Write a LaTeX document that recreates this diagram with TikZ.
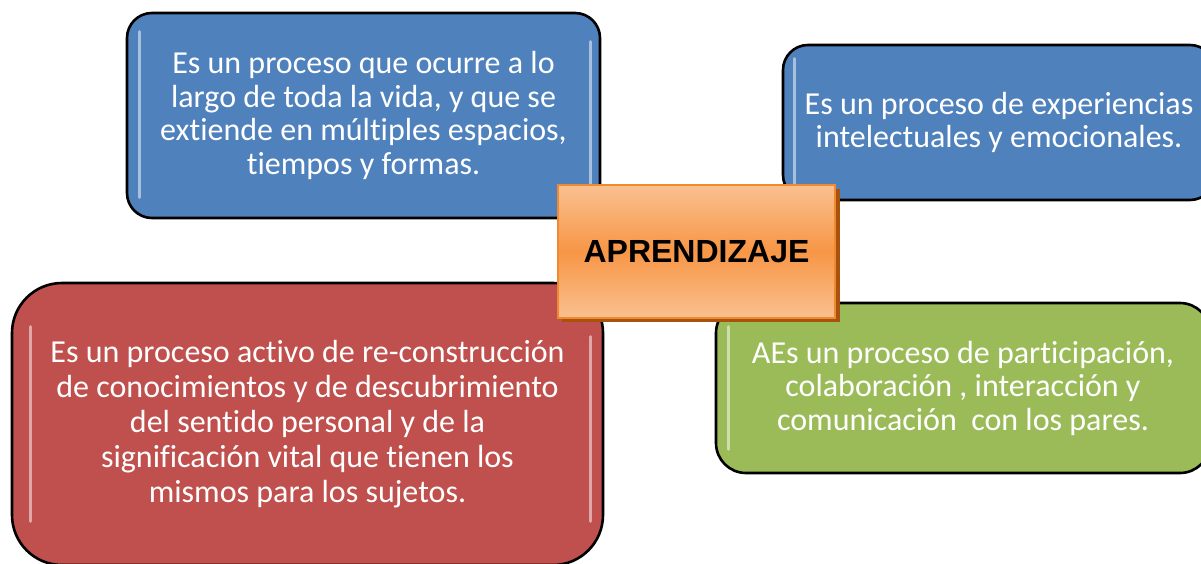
\documentclass[tikz,border=0pt]{standalone}
\usepackage{fontspec}
\setmainfont{Carlito}[Ligatures=NoCommon]
\newfontfamily\arialfont{Liberation Sans}
\definecolor{boxblue}{HTML}{4F81BD}
\definecolor{boxred}{HTML}{C0504D}
\definecolor{boxgreen}{HTML}{9BBB59}
\definecolor{orangemid}{HTML}{F79646}
\definecolor{orangelight}{HTML}{FAC090}
\definecolor{orangeshadow}{HTML}{A8520E}
\definecolor{orangeedge}{HTML}{F08A30}
\tikzset{
  card/.style={draw=black, line width=2.6pt, text=white, align=center,
    font=\fontsize{32}{33.5}\selectfont, inner sep=0pt},
  gloss/.style={draw=white, opacity=0.5, line width=3pt, line cap=round},
  centerbox/.style={draw=orangeedge, line width=1.5pt, shading=axis,
    top color=orangelight, bottom color=orangelight, middle color=orangemid,
    minimum width=277pt, minimum height=133pt, inner sep=0pt,
    font=\arialfont\bfseries\fontsize{32}{36}\selectfont, text=black}
}
\begin{document}
\begin{tikzpicture}[x=1pt,y=-1pt]
\useasboundingbox (0,0) rectangle (1201,563);
\clip (0,0) rectangle (1201,563);
\fill[white] (0,0) rectangle (1201,563);
% blue box 1
\node[card, fill=boxblue, rounded corners=25pt, minimum width=473pt, minimum height=205pt]
  (b1) at (363.5,115.5) {Es un proceso que ocurre a lo\\largo de toda la vida, y que se\\extiende en múltiples espacios,\\tiempos y formas.};
\draw[gloss] ([shift={(14pt,-20pt)}]b1.north west) -- ([shift={(14pt,22pt)}]b1.south west);
\draw[gloss] ([shift={(-11pt,-30pt)}]b1.north east) -- ([shift={(-11pt,22pt)}]b1.south east);
% blue box 2
\node[card, fill=boxblue, rounded corners=25pt, minimum width=432pt, minimum height=155pt]
  (b2) at (999,122.5) {Es un proceso de experiencias\\intelectuales y emocionales.};
\draw[gloss] ([shift={(13pt,-15pt)}]b2.north west) -- ([shift={(13pt,18pt)}]b2.south west);
% red box
\node[card, fill=boxred, rounded corners=50pt, minimum width=591pt, minimum height=282pt,
  font=\fontsize{32}{35}\selectfont]
  (r) at (307.5,424) {Es un proceso activo de re-construcción\\de conocimientos y de descubrimiento\\del sentido personal y de la\\significación vital que tienen los\\mismos para los sujetos.};
\draw[gloss] ([shift={(20pt,-45pt)}]r.north west) -- ([shift={(20pt,45pt)}]r.south west);
\draw[gloss] ([shift={(-14pt,-55pt)}]r.north east) -- ([shift={(-14pt,45pt)}]r.south east);
% green box
\node[card, fill=boxgreen, rounded corners=30pt, minimum width=494pt, minimum height=170pt]
  (g) at (963,388) {AEs un proceso de participación,\\colaboración , interacción y\\comunicación\ \ con los pares.};
\draw[gloss] ([shift={(14pt,-25pt)}]g.north west) -- ([shift={(14pt,25pt)}]g.south west);
% central box with shadow
\fill[orangeshadow] (562,189) rectangle (840,322);
\node[centerbox] (c) at (696.5,251.5) {APRENDIZAJE};
\end{tikzpicture}
\end{document}
